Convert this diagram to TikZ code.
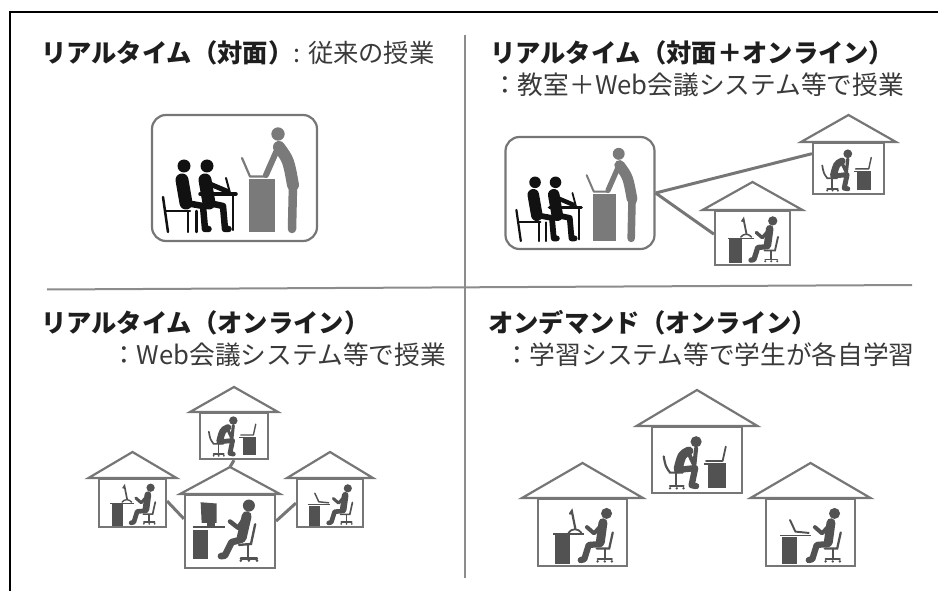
\documentclass[tikz,border=0pt]{standalone}
\usepackage{fontspec}
\newfontfamily\jpfont{Noto Sans CJK JP}
\usetikzlibrary{calc}

\definecolor{divider}{HTML}{8C8C8C}
\definecolor{outline}{HTML}{767676}
\definecolor{figdark}{HTML}{525252}
\definecolor{teacher}{HTML}{7A7A7A}
\definecolor{student}{HTML}{111111}
\definecolor{titlecol}{HTML}{1E1E1E}
\definecolor{subcol}{HTML}{3A3A3A}

\tikzset{
  headtext/.style={anchor=west, inner sep=0pt, text=titlecol,
    font=\jpfont\bfseries\fontsize{25.3}{30}\selectfont},
  subtext/.style={anchor=west, inner sep=0pt, text=subcol,
    font=\jpfont\fontsize{25.7}{30}\selectfont},
  hbody/.style={draw=outline, line width=2.2pt, inner sep=0pt, fill=white},
  roofline/.style={draw=outline, line width=2.2pt, line join=miter},
  classbox/.style={draw=outline, line width=2.2pt, rounded corners=14pt, inner sep=0pt},
  link/.style={draw=outline, line width=3pt},
  % person hunched over a laptop, chair on the left
  pics/studyA/.style={code={
    \begin{scope}[shift={(-50,-72)}]
      \draw[figdark, line width=#1*2.4pt, line cap=round] (13,30) .. controls (15,41) .. (20,48) -- (34,48);
      \draw[figdark, line width=#1*2.4pt] (27,48) -- (27,62);
      \draw[figdark, line width=#1*2.4pt, line cap=round] (20,63) -- (35,63);
      \fill[figdark] (20,65.5) circle[radius=1.5] (27.5,65.5) circle[radius=1.5] (35,65.5) circle[radius=1.5];
      \fill[figdark] (49,13.7) circle[radius=6.2];
      \draw[figdark, line width=#1*10pt, line cap=round] (41,24) .. controls (33,28) .. (29,44);
      \draw[figdark, line width=#1*7pt, line cap=round, line join=round] (29,45) -- (48,43) -- (44,62) -- (49,63);
      \draw[figdark, line width=#1*4.5pt, line cap=round, line join=round] (41,27) -- (47,40) -- (49,21);
      \fill[figdark] (62.6,39.6) rectangle (82,65);
      \draw[figdark, line width=#1*2pt] (58,38.5) -- (82,38.5);
      \draw[figdark, line width=#1*2pt, line cap=round, line join=round] (60,35) -- (78.5,35) -- (82,19);
    \end{scope}
  }},
  % desk with a monitor on the left, person on a chair to the right
  pics/studyB/.style={code={
    \begin{scope}[shift={(-50,-72)}]
      \fill[figdark] (19,36) rectangle (36,68);
      \draw[figdark, line width=#1*2pt] (17,35) -- (52,35);
      \draw[figdark, line width=#1*2.5pt, line cap=round] (36,12) -- (38,9) -- (42,29);
      \draw[figdark, line width=#1*2pt] (34,33.5) .. controls (38,28) and (45,28) .. (49,33.5);
      \draw[figdark, line width=#1*2.5pt, line cap=round] (84,33) -- (80,51) -- (66,51);
      \draw[figdark, line width=#1*2.5pt] (75,51) -- (75,62);
      \draw[figdark, line width=#1*2.5pt, line cap=round] (67,63) -- (83,63);
      \fill[figdark] (67,65.5) circle[radius=1.5] (75,65.5) circle[radius=1.5] (83,65.5) circle[radius=1.5];
      \fill[figdark] (77,11.6) circle[radius=6.2];
      \draw[figdark, line width=#1*10pt, line cap=round] (73,22) -- (70,44);
      \draw[figdark, line width=#1*4.5pt, line cap=round, line join=round] (71,25) -- (63,34) -- (55,27);
      \draw[figdark, line width=#1*7pt, line cap=round, line join=round] (70,46) -- (57,47) -- (52,63) -- (48,64);
    \end{scope}
  }},
  % desk with a laptop on the left, person on a chair to the right
  pics/studyC/.style={code={
    \begin{scope}[shift={(-50,-72)}]
      \fill[figdark] (17.6,37.8) rectangle (34.5,68);
      \draw[figdark, line width=#1*2pt] (16,36.5) -- (50,36.5);
      \draw[figdark, line width=#1*2.2pt, line cap=round, line join=round] (27,19) -- (33,32) -- (48,33.5);
      \draw[figdark, line width=#1*2.5pt, line cap=round] (84,33) -- (80,51) -- (66,51);
      \draw[figdark, line width=#1*2.5pt] (75,51) -- (75,62);
      \draw[figdark, line width=#1*2.5pt, line cap=round] (67,63) -- (83,63);
      \fill[figdark] (67,65.5) circle[radius=1.5] (75,65.5) circle[radius=1.5] (83,65.5) circle[radius=1.5];
      \fill[figdark] (77,11.6) circle[radius=6.2];
      \draw[figdark, line width=#1*10pt, line cap=round] (73,22) -- (70,44);
      \draw[figdark, line width=#1*4.5pt, line cap=round, line join=round] (71,25) -- (63,34) -- (55,27);
      \draw[figdark, line width=#1*7pt, line cap=round, line join=round] (70,46) -- (57,47) -- (52,63) -- (48,64);
    \end{scope}
  }},
  % large desktop computer, person on a chair to the right
  pics/studyD/.style={code={
    \begin{scope}[shift={(-50,-80)}]
      \fill[figdark] (17.4,5.6) -- (35.2,7) -- (35.2,28.5) -- (18.5,28.5) -- cycle;
      \fill[figdark] (24,28.5) rectangle (33,31.5);
      \draw[figdark, line width=#1*2.4pt] (8.5,33.5) -- (44.4,33.5);
      \fill[figdark] (8.5,36) rectangle (26,68.5);
      \draw[figdark, line width=#1*2.6pt, line cap=round] (78,30) -- (73.3,52) -- (60,53);
      \draw[figdark, line width=#1*2.6pt] (70,53) -- (70,66);
      \draw[figdark, line width=#1*2.6pt, line cap=round] (62,68) -- (80,68);
      \fill[figdark] (62,70.5) circle[radius=1.6] (71,70.5) circle[radius=1.6] (80,70.5) circle[radius=1.6];
      \fill[figdark] (71,9.3) circle[radius=6.7];
      \draw[figdark, line width=#1*11pt, line cap=round] (68.5,21) -- (63,45);
      \draw[figdark, line width=#1*5pt, line cap=round, line join=round] (66.5,23) -- (59,34) -- (50,27);
      \draw[figdark, line width=#1*7.5pt, line cap=round, line join=round] (63,47) -- (51.8,50) -- (44.4,64.8) -- (40,65.5);
    \end{scope}
  }},
  % classroom: two students at a desk, teacher at a lectern
  pics/classroom/.style={code={
    \fill[teacher] (43.5,-44) circle[radius=6.7];
    \draw[teacher, line width=#1*12pt, line cap=round] (44.5,-31) .. controls (54,-18) .. (58.5,7);
    \draw[teacher, line width=#1*8.5pt, line cap=round] (58.5,7) -- (57.5,51);
    \draw[teacher, line width=#1*6pt, line cap=round] (42.5,-28) -- (31.5,-3);
    \fill[teacher] (14.5,1) rectangle (40.5,54);
    \draw[teacher, line width=#1*2.2pt, line cap=round, line join=round] (7.5,-20) -- (15.5,-1.5) -- (32,-1.5);
    \begin{scope}[student, line cap=round, line join=round]
      \draw[line width=#1*2.5pt] (-71.5,19) -- (-66.5,54);
      \draw[line width=#1*2.5pt] (-68.5,33) -- (-44.5,33);
      \draw[line width=#1*2.5pt] (-46.5,33) -- (-46.5,54);
      \draw[line width=#1*2.5pt] (-38,33) -- (-38,54);
      \draw[line width=#1*3.5pt] (-34.5,16) -- (1.5,16);
      \draw[line width=#1*2.5pt] (-1.5,16) -- (-1.5,52);
      \draw[line width=#1*2pt] (-8.5,0) -- (-4.5,15);
      \fill (-50.5,-12) circle[radius=6.5] (-27.5,-12) circle[radius=6.5];
      \draw[line width=#1*13pt] (-52.5,2) -- (-48.5,25);
      \draw[line width=#1*13pt] (-29.5,2) -- (-25.5,25);
      \draw[line width=#1*6.5pt] (-48.5,25) -- (-31.5,28) -- (-29.5,51) -- (-26,51);
      \draw[line width=#1*6.5pt] (-25.5,25) -- (-11.5,28) -- (-9.5,51) -- (-6,51);
      \draw[line width=#1*5pt] (-27,5) -- (-8,13);
    \end{scope}
  }}
}

% a house: body node with a triangular roof on top
% #1 name, #2 centre x, #3 body top y, #4 body width, #5 body height, #6 roof width, #7 roof height
\newcommand\house[7]{%
  \node[hbody, minimum width=#4pt, minimum height=#5pt, anchor=north] (#1) at (#2,#3) {};
  \coordinate (#1-apex) at ($(#1.north)+(0,-#7)$);
  \draw[roofline] ($(#1.north)+(-#6/2,0)$) -- ($(#1.north)+(#6/2,0)$) -- (#1-apex) -- cycle;
}

\begin{document}
\begin{tikzpicture}[x=1pt, y=-1pt]
  \useasboundingbox (0,0) rectangle (938,591);

  % outer frame and quadrant dividers
  \draw[black, line width=1.5pt] (10,591) -- (10,12) -- (938,12);
  \draw[divider, line width=2pt] (465,35) -- (465,578);
  \draw[divider, line width=2pt] (47,289.5) -- (912,285);

  % headings
  \node[headtext] (t1) at (41,53) {リアルタイム（対面）{\mdseries\color{subcol}: 従来の授業}};
  \node[headtext] (t2) at (490,53) {リアルタイム（対面＋オンライン）};
  \node[subtext] (t2s) at (492,85) {：教室＋Web会議システム等で授業};
  \node[headtext] (t3) at (41,323) {リアルタイム（オンライン）};
  \node[subtext] (t3s) at (111,355) {：Web会議システム等で授業};
  \node[headtext] (t4) at (488,323) {オンデマンド（オンライン）};
  \node[subtext] (t4s) at (504,355) {：学習システム等で学生が各自学習};

  % face-to-face classroom
  \node[classbox, minimum width=165pt, minimum height=126pt] (c1) at (234.5,178) {};
  \pic at (c1.center) {classroom=1};

  % classroom linked to two homes
  \node[classbox, minimum width=149pt, minimum height=112pt] (c2) at (580,193) {};
  \pic[scale=0.89] at (c2.center) {classroom=0.89};
  \house{h1}{848.5}{142}{71}{51}{95}{27}
  \house{h2}{752.5}{210}{75}{54}{100}{28}
  \draw[link] (c2.east) -- ($(h1.north west)!0.22!(h1.south west)$);
  \draw[link] (c2.east) -- ($(h2.north west)!0.43!(h2.south west)$);
  \pic[scale=0.71] at (h1.south) {studyA=0.71};
  \pic[scale=0.75] at (h2.south) {studyB=0.75};

  % online class: four homes linked together
  \house{h3}{234}{412}{68}{46}{88}{25}
  \house{h4}{132.5}{478}{67}{48}{88}{26}
  \house{h5}{330}{478}{66}{48}{86}{26}
  \house{h6}{230}{494}{90}{73}{100}{27}
  \draw[link] (h3.south) -- (h6-apex);
  \draw[link] ($(h4.north east)!0.46!(h4.south east)$) -- ($(h6.north west)!0.33!(h6.south west)$);
  \draw[link] ($(h5.north west)!0.5!(h5.south west)$) -- ($(h6.north east)!0.36!(h6.south east)$);
  \pic[scale=0.68] at (h3.south) {studyA=0.68};
  \pic[scale=0.67] at (h4.south) {studyB=0.67};
  \pic[scale=0.66] at (h5.south) {studyC=0.66};
  \pic[scale=0.9] at (h6.south) {studyD=0.9};

  % on-demand: three separate homes
  \house{h7}{697}{426}{90}{66}{121}{36}
  \house{h8}{582.5}{498}{89}{67}{121}{35}
  \house{h9}{810.5}{498}{89}{67}{120}{35}
  \pic[scale=0.9] at (h7.south) {studyA=0.9};
  \pic[scale=0.89] at (h8.south) {studyB=0.89};
  \pic[scale=0.89] at (h9.south) {studyC=0.89};
\end{tikzpicture}
\end{document}
